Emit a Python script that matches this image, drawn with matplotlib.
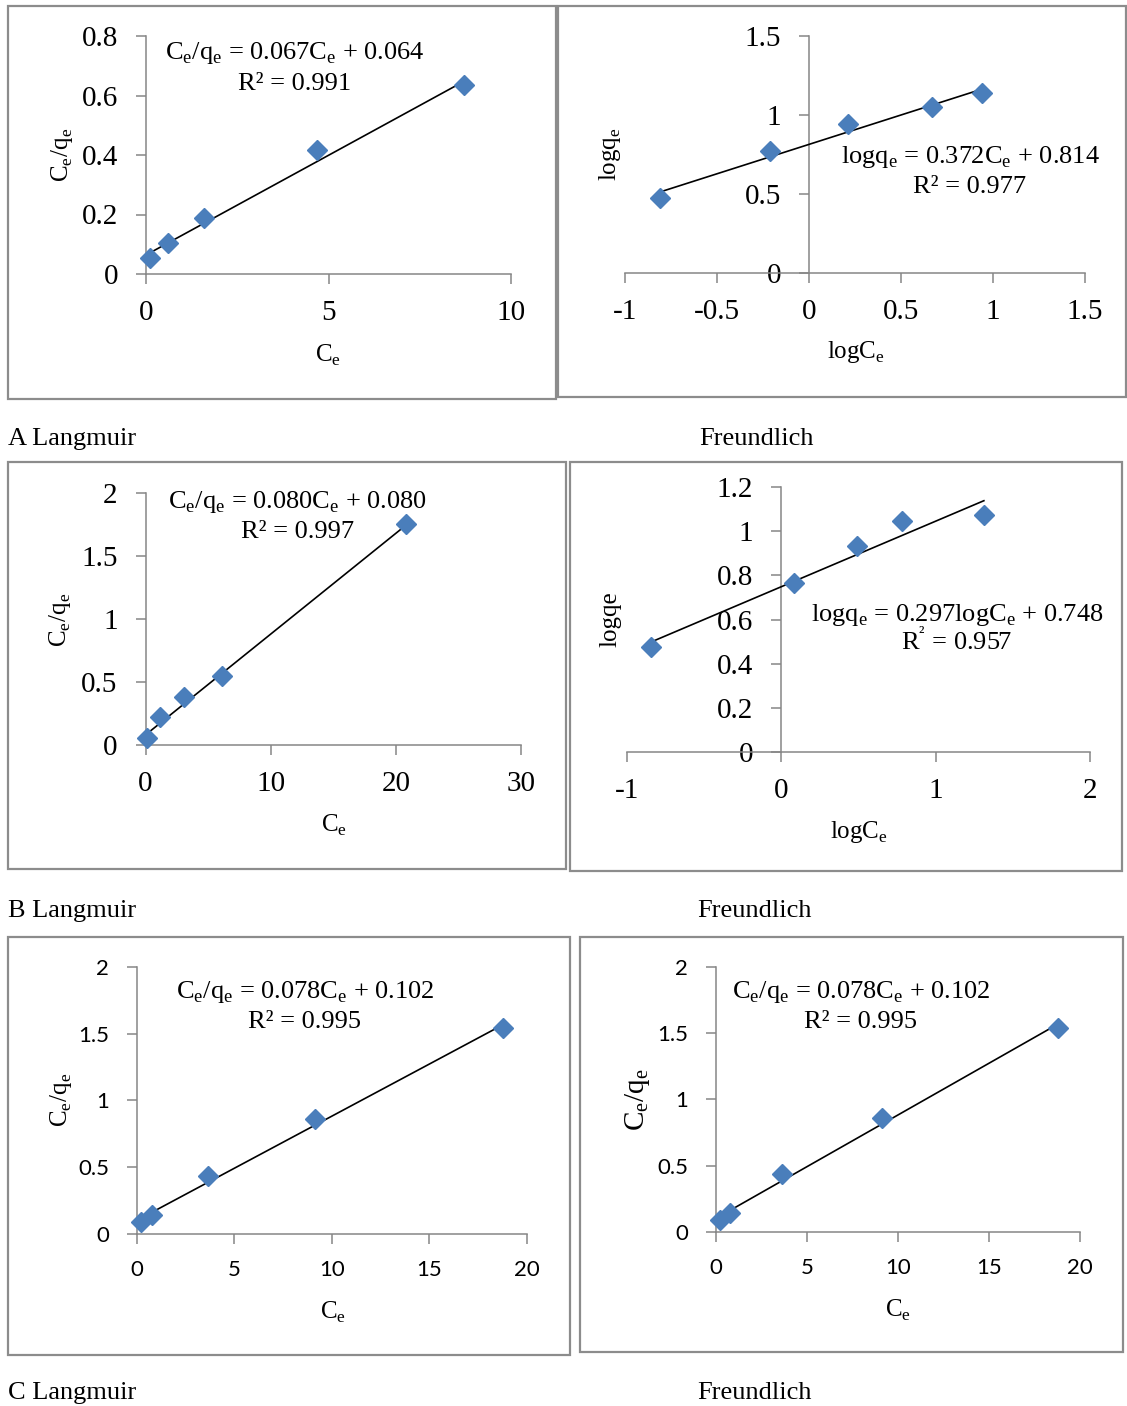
import matplotlib
matplotlib.use('Agg')
import matplotlib.pyplot as plt
from matplotlib.patches import Rectangle

plt.rcParams['font.family'] = 'Liberation Serif'
plt.rcParams['axes.unicode_minus'] = False

# Data
a_lang_ce = [0.12, 0.59, 1.59, 4.68, 8.71]
a_lang_ceqe = [0.053, 0.105, 0.187, 0.417, 0.635]
a_lang_fit = [0.067, 0.064]

a_fr_logce = [-0.808, -0.212, 0.210, 0.671, 0.939]
a_fr_logqe = [0.477, 0.773, 0.942, 1.052, 1.137]
a_fr_fit = [0.372, 0.814]

b_lang_ce = [0.145, 1.16, 3.11, 6.10, 20.82]
b_lang_ceqe = [0.053, 0.225, 0.379, 0.548, 1.754]
b_lang_fit = [0.080, 0.080]

b_fr_logce = [-0.840, 0.084, 0.490, 0.780, 1.313]
b_fr_logqe = [0.474, 0.766, 0.932, 1.045, 1.075]
b_fr_fit = [0.297, 0.748]

c_ce = [0.23, 0.79, 3.65, 9.12, 18.78]
c_ceqe = [0.087, 0.142, 0.436, 0.860, 1.539]
c_fit = [0.078, 0.102]

W, H = 1127, 1406
fig = plt.figure(figsize=(W / 100, H / 100), dpi=100)

SUB = r'$_\mathregular{e}$'
GRAY = '#868686'
BLUE = '#4a7ebb'


def px(x, y):
    return x / W, 1 - y / H


def frame(x0, y0, x1, y1):
    fig.patches.append(Rectangle(px(x0, y1), (x1 - x0) / W, (y1 - y0) / H,
                                 transform=fig.transFigure, fill=False,
                                 ec='#8c8c8c', lw=1.6))


def panel(x0, x1, ytop, ybot, xs, ys, fit, xlim, ylim, xticks, yticks,
          sans=False):
    ax = fig.add_axes([x0 / W, 1 - ybot / H, (x1 - x0) / W, (ybot - ytop) / H])
    ax.set_xlim(*xlim)
    ax.set_ylim(*ylim)
    ax.patch.set_alpha(0)
    for s in ['top', 'right']:
        ax.spines[s].set_visible(False)
    for s in ['left', 'bottom']:
        ax.spines[s].set_color(GRAY)
        ax.spines[s].set_linewidth(1.1)
        ax.spines[s].set_position(('data', 0))
    ax.set_xticks(xticks)
    ax.set_yticks(yticks)
    ax.set_xticklabels([f'{v:g}' for v in xticks])
    ax.set_yticklabels([f'{v:g}' for v in yticks])
    if sans:
        size, fam = 16, 'Lato'
    else:
        size, fam = 21, 'Liberation Serif'
    for lab in ax.get_xticklabels() + ax.get_yticklabels():
        lab.set_fontsize(size)
        lab.set_family(fam)
    ax.tick_params(axis='both', direction='out', length=7, width=1.1,
                   color=GRAY)
    ax.tick_params(axis='x', pad=12)
    ax.tick_params(axis='y', pad=13)
    lx = [min(xs), max(xs)]
    ax.plot(lx, [fit[0] * v + fit[1] for v in lx], color='black', lw=1.2,
            zorder=3)
    ax.plot(xs, ys, 'D', color=BLUE, ms=10.5, mec=BLUE, clip_on=False,
            zorder=4)
    return ax


def label(x, y, s, size=18, rot=0):
    fig.text(*px(x, y), s, fontsize=size, rotation=rot, ha='center',
             va='center')


def equation(cx, y1, y2, line1, line2, size=19):
    fig.text(*px(cx, y1), line1, fontsize=size, ha='center', va='baseline')
    fig.text(*px(cx, y2), line2, fontsize=size, ha='center', va='baseline')


# frames
frame(8, 6, 556, 399)
frame(558, 6, 1126, 397)
frame(8, 462, 566, 869)
frame(570, 462, 1122, 871)
frame(8, 937, 570, 1355)
frame(580, 937, 1123, 1352)

# A Langmuir
panel(146, 511, 36, 274, a_lang_ce, a_lang_ceqe, a_lang_fit, (0, 10), (0, 0.8),
      [0, 5, 10], [0, 0.2, 0.4, 0.6, 0.8])
label(328, 355, 'C' + SUB)
label(62, 155, 'C' + SUB + '/q' + SUB, rot=90)
equation(295, 59, 90, 'C' + SUB + '/q' + SUB + ' = 0.067C' + SUB + ' + 0.064',
         'R² = 0.991')

# A Freundlich
panel(625, 1085, 36, 273, a_fr_logce, a_fr_logqe, a_fr_fit, (-1, 1.5), (0, 1.5),
      [-1, -0.5, 0, 0.5, 1, 1.5], [0, 0.5, 1, 1.5])
label(856, 352, 'logC' + SUB)
label(610, 154, 'logq' + SUB, rot=90)
equation(970, 163, 193, 'logq' + SUB + ' = 0.372C' + SUB + ' + 0.814',
         'R² = 0.977')

# B Langmuir
panel(145.5, 521, 493, 745, b_lang_ce, b_lang_ceqe, b_lang_fit, (0, 30), (0, 2),
      [0, 10, 20, 30], [0, 0.5, 1, 1.5, 2])
label(334, 825, 'C' + SUB)
label(60, 620, 'C' + SUB + '/q' + SUB, rot=90)
equation(298, 508, 538, 'C' + SUB + '/q' + SUB + ' = 0.080C' + SUB + ' + 0.080',
         'R² = 0.997')

# B Freundlich
panel(626.6, 1090, 487, 752, b_fr_logce, b_fr_logqe, b_fr_fit, (-1, 2), (0, 1.2),
      [-1, 0, 1, 2], [0, 0.2, 0.4, 0.6, 0.8, 1, 1.2])
label(859, 832, 'logC' + SUB)
label(610, 619, 'logqe', rot=90)
equation(957, 621, 650, 'logq' + SUB + ' = 0.297logC' + SUB + ' + 0.748',
         r'R$^{\mathregular{²}}$ = 0.957')

# C Langmuir
panel(136.8, 527, 966.7, 1234, c_ce, c_ceqe, c_fit, (0, 20), (0, 2),
      [0, 5, 10, 15, 20], [0, 0.5, 1, 1.5, 2], sans=True)
label(333, 1312, 'C' + SUB)
label(60.5, 1100, 'C' + SUB + '/q' + SUB, rot=90)
equation(305, 998, 1028, 'C' + SUB + '/q' + SUB + ' = 0.078C' + SUB + ' + 0.102',
         'R² = 0.995')

# C Freundlich
panel(715.8, 1080, 966.7, 1232, c_ce, c_ceqe, c_fit, (0, 20), (0, 2),
      [0, 5, 10, 15, 20], [0, 0.5, 1, 1.5, 2], sans=True)
label(898, 1310, 'C' + SUB)
label(637, 1100, 'C' + SUB + '/q' + SUB, size=21, rot=90)
equation(861, 998, 1028, 'C' + SUB + '/q' + SUB + ' = 0.078C' + SUB + ' + 0.102',
         'R² = 0.995')

# panel captions
for y, left in [(445, 'A Langmuir'), (917, 'B Langmuir'), (1399, 'C Langmuir')]:
    fig.text(*px(8, y), left, fontsize=19, ha='left', va='baseline')
fig.text(*px(699, 445), 'Freundlich', fontsize=19, ha='left', va='baseline')
fig.text(*px(697, 917), 'Freundlich', fontsize=19, ha='left', va='baseline')
fig.text(*px(697, 1399), 'Freundlich', fontsize=19, ha='left', va='baseline')

fig.savefig('out.png', dpi=100)
